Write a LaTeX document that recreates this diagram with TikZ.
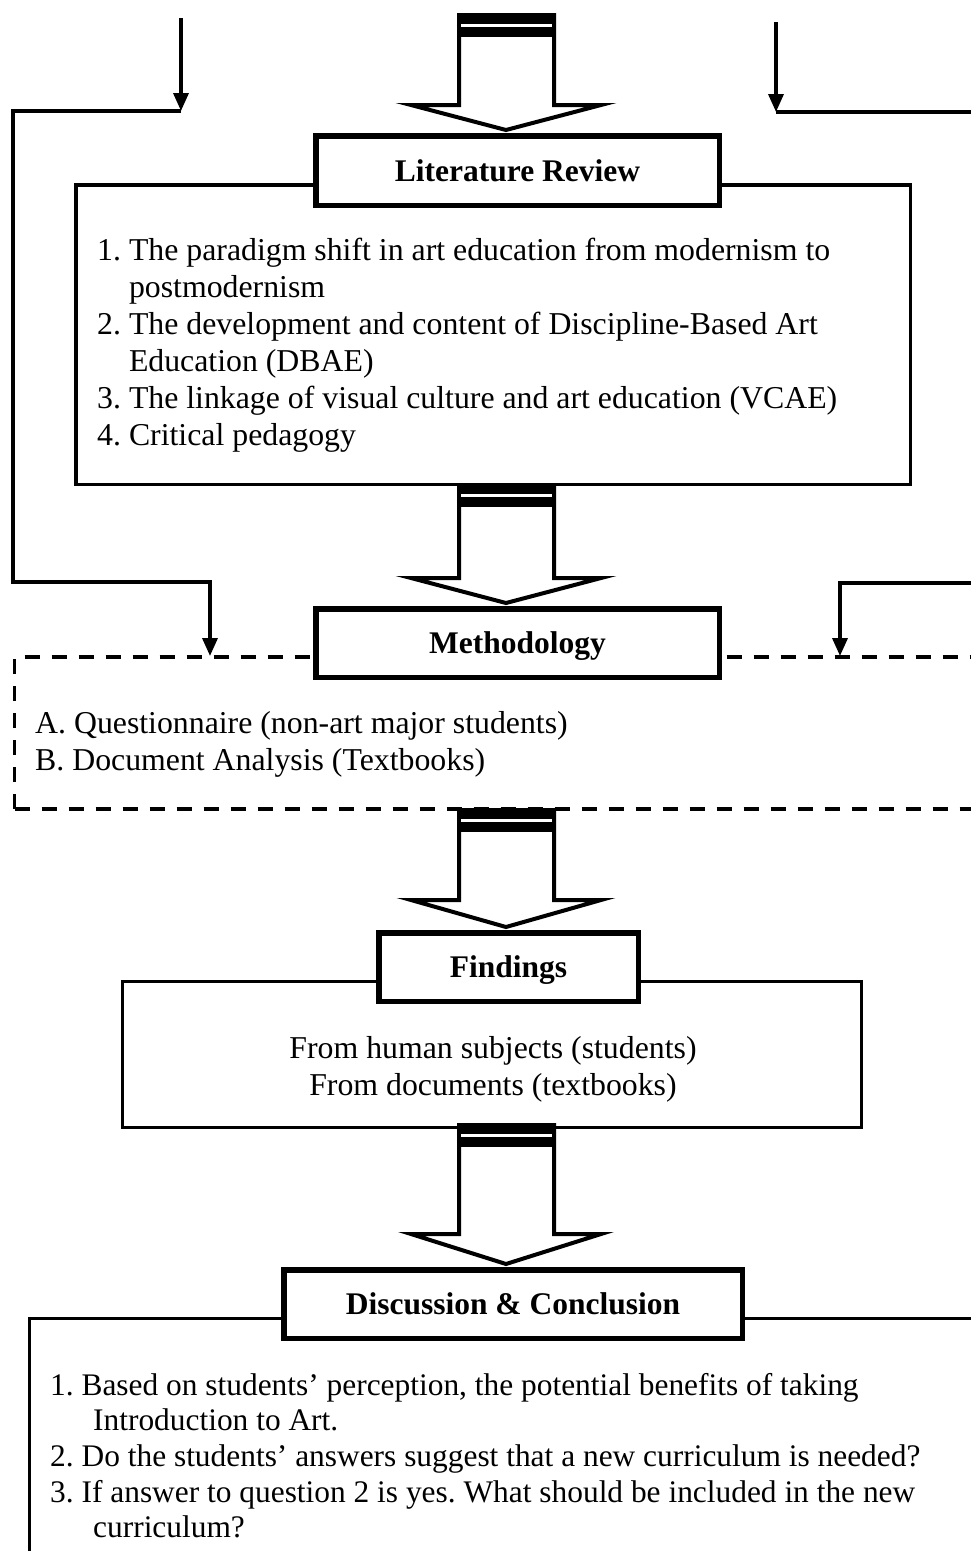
\documentclass[tikz,border=0pt]{standalone}
\usepackage{fontspec}
\setmainfont{Liberation Serif}
\usetikzlibrary{arrows.meta}
\frenchspacing

% hollow block arrow pointing down: #1 top, #2 head base, #3 tip (y values)
\newcommand\hollowdown[3]{%
  \draw[hollow] (459,{#1+2}) -- (459,{#2+2}) -- (411,{#2+2}) -- (506,{#3-2})
        -- (601,{#2+2}) -- (554,{#2+2}) -- (554,{#1+2}) -- cycle;
  \fill (457,#1) rectangle (556,{#1+24});
  \draw[white, line width=2.6pt] (461,{#1+12.5}) -- (552,{#1+12.5});
}

\begin{document}
\begin{tikzpicture}[x=1pt,y=-1pt,
  listtext/.style={inner sep=0pt, anchor=base west, font=\fontsize{31.8}{37}\selectfont},
  headbox/.style={draw, line width=5.5pt, fill=white, inner sep=0pt,
    font=\bfseries\fontsize{31.5}{37}\selectfont, text height=21pt, text depth=0pt},
  bodybox/.style={draw, line width=3.5pt, fill=white, inner sep=0pt},
  conn/.style={line width=3.5pt},
  connarrow/.style={conn, -{Triangle[width=15pt,length=18pt]}},
  hollow/.style={line width=4pt, fill=white, line join=miter},
]
\useasboundingbox (0,0) rectangle (971,1551);
\clip (0,0) rectangle (971,1551);
\fill[white] (0,0) rectangle (971,1551);

% body boxes
\node[bodybox, minimum width=834.5pt, minimum height=299.5pt] (litbody) at (493,334.5) {};
\draw[line width=3.2pt, dash pattern=on 15pt off 12pt] (14.5,809) -- (14.5,657) -- (1000,657);
\draw[line width=3.2pt, dash pattern=on 15pt off 12pt] (14.5,809) -- (1000,809);
\node[bodybox, line width=3pt, minimum width=739pt, minimum height=146pt] (findbody) at (492,1054.5) {};
\draw[line width=3pt] (1000,1318.5) -- (29.5,1318.5) -- (29.5,1600);

% block arrows between the stages
\hollowdown{13}{103}{132}
\hollowdown{483}{576}{605}
\hollowdown{808}{898}{929}
\hollowdown{1123}{1232}{1266}

% stage headings
\node[headbox, minimum width=403.5pt, minimum height=69.5pt] (lit) at (517.5,170.5) {Literature Review};
\node[headbox, minimum width=403.5pt, minimum height=68.5pt] (meth) at (517.5,643) {Methodology};
\node[headbox, minimum width=259.5pt, minimum height=68.5pt] (find) at (508.5,967) {Findings};
\node[headbox, minimum width=458.5pt, minimum height=68.5pt] (disc) at (513,1304) {Discussion \& Conclusion};

% stage contents
\node[listtext] (littext) at (97,260) {\begin{tabular}[t]{@{}l@{}}
1. The paradigm shift in art education from modernism to\\
\hspace*{1em}postmodernism\\
2. The development and content of Discipline-Based Art\\
\hspace*{1em}Education (DBAE)\\
3. The linkage of visual culture and art education (VCAE)\\
4. Critical pedagogy
\end{tabular}};
\node[listtext] (methtext) at (35,733) {\begin{tabular}[t]{@{}l@{}}
A. Questionnaire (non-art major students)\\
B. Document Analysis (Textbooks)
\end{tabular}};
\node[listtext, anchor=base] (findtext) at (493,1058) {\begin{tabular}[t]{@{}c@{}}
From human subjects (students)\\
From documents (textbooks)
\end{tabular}};
\node[listtext, font=\fontsize{31.4}{35.7}\selectfont] (disctext) at (50,1395) {\begin{tabular}[t]{@{}l@{}}
1. Based on students’ perception, the potential benefits of taking\\
\hspace*{43pt}Introduction to Art.\\
2. Do the students’ answers suggest that a new curriculum is needed?\\
3. If answer to question 2 is yes. What should be included in the new\\
\hspace*{43pt}curriculum?
\end{tabular}};

% feedback connectors
\coordinate (ltop) at (181,18);
\coordinate (ljoin) at (181,111);
\coordinate (lcorner) at (13,111);
\coordinate (lbottom) at (13,582);
\coordinate (lturn) at (210,582);
\coordinate (lend) at (210,656);
\draw[connarrow] (ltop) -- (ljoin);
\draw[connarrow] (ljoin) -- (lcorner) -- (lbottom) -- (lturn) -- (lend);

\coordinate (rtop) at (776,22);
\coordinate (rjoin) at (776,112);
\coordinate (rout) at (1000,112);
\coordinate (rin) at (1000,583);
\coordinate (rturn) at (840,583);
\coordinate (rend) at (840,656);
\draw[connarrow] (rtop) -- (rjoin);
\draw[conn] (rjoin) -- (rout);
\draw[connarrow] (rin) -- (rturn) -- (rend);
\end{tikzpicture}
\end{document}
